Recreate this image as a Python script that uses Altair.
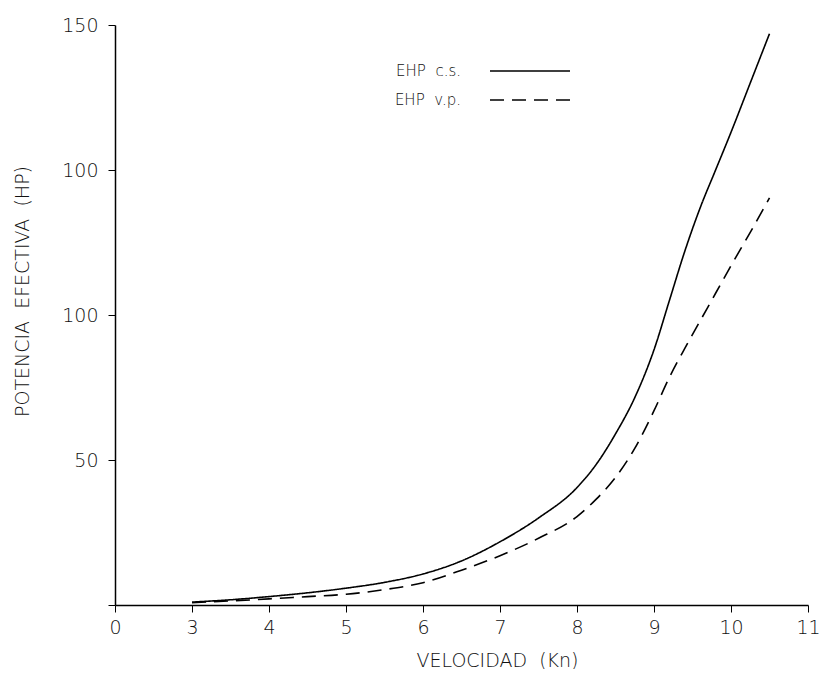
import altair as alt
import pandas as pd

# Velocidad (Kn) and effective power readings
vel = [3, 3.5, 4, 4.5, 5, 5.5, 6, 6.5, 7, 7.5, 8, 8.25, 8.5, 8.75, 9, 9.2, 9.4, 9.6, 9.8, 10, 10.25, 10.5]
ehp_cs = [1.0, 1.8, 2.9, 4.2, 5.8, 7.8, 10.7, 15.2, 21.8, 30, 40.5, 48.5, 59, 71.5, 88, 105, 122, 137, 150, 163, 180, 197]
ehp_vp = [0.8, 1.4, 2.1, 2.9, 3.7, 5.3, 7.7, 12, 17, 23, 30.5, 36.5, 44, 54, 67, 78.5, 88.5, 98, 107.5, 117, 128.5, 140.4]

NB = "\u00a0 "
series_names = ["EHP" + NB + "c.s.", "EHP" + NB + "v.p."]

x_tick_values = [2, 3, 4, 5, 6, 7, 8, 9, 10, 11]
x_tick_labels = ["0", "3", "4", "5", "6", "7", "8", "9", "10", "11"]
y_tick_values = [0, 50, 100, 150, 200]
y_tick_labels = ["", "50", "100", "100", "150"]

rows = []
for v, a, b in zip(vel, ehp_cs, ehp_vp):
    rows.append({"vel": v, "ehp": a, "serie": series_names[0]})
    rows.append({"vel": v, "ehp": b, "serie": series_names[1]})
df = pd.DataFrame(rows)


def label_expr(values, labels):
    expr = "''"
    for v, l in reversed(list(zip(values, labels))):
        expr = f"datum.value == {v} ? '{l}' : ({expr})"
    return expr


FONT = "DejaVu Sans"
WEIGHT = 300
TXT = "#111"

chart = alt.Chart(df).mark_line(color="black", strokeWidth=1.6, interpolate="monotone").encode(
    x=alt.X("vel:Q",
            scale=alt.Scale(domain=[2, 11], nice=False, zero=False),
            axis=alt.Axis(values=x_tick_values, labelExpr=label_expr(x_tick_values, x_tick_labels),
                          title="VELOCIDAD" + NB + "(Kn)", titleX=382, titleY=55,
                          titleBaseline="middle", titleAlign="center",
                          labelPadding=6, labelFlush=False)),
    y=alt.Y("ehp:Q",
            scale=alt.Scale(domain=[0, 200], nice=False),
            axis=alt.Axis(values=y_tick_values, labelExpr=label_expr(y_tick_values, y_tick_labels),
                          title="POTENCIA" + NB + "EFECTIVA" + NB + "(HP)", titleX=-93, titleY=266,
                          titleAngle=270, titleAlign="center", titleBaseline="middle",
                          labelPadding=10, labelFlush=False)),
    strokeDash=alt.StrokeDash("serie:N",
                              scale=alt.Scale(domain=series_names, range=[[1, 0], [14, 8]]),
                              legend=alt.Legend(title=None, orient="none", legendX=404, legendY=35,
                                                direction="vertical",
                                                symbolType="M-4,0H4", symbolSize=400,
                                                symbolStrokeColor="black", symbolStrokeWidth=1.5,
                                                labelAlign="right", labelOffset={"expr": "-80"},
                                                labelFontSize=15, labelFont=FONT, labelColor=TXT,
                                                labelFontWeight=WEIGHT,
                                                rowPadding=10, padding=0)),
).properties(
    width=693, height=580,
    autosize=alt.AutoSizeParams(type="none"),
    padding={"left": 107, "top": 17, "right": 15, "bottom": 64},
).configure_view(
    stroke=None
).configure_axis(
    grid=False, domainColor="black", domainWidth=1.5, tickColor="black", tickWidth=1,
    tickSize=7, labelFont=FONT, labelFontSize=19, labelColor=TXT, labelFontWeight=WEIGHT,
    titleFont=FONT, titleFontSize=19, titleColor=TXT, titleFontWeight=WEIGHT,
)

chart.save("out.html", embed_options={"renderer": "svg", "actions": False})
